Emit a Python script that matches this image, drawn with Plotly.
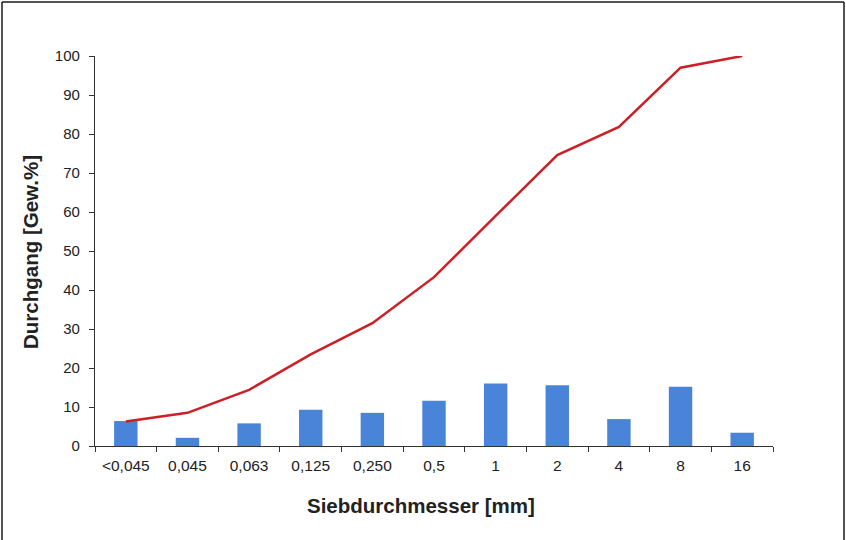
import plotly.graph_objects as go

categories = ["<0,045", "0,045", "0,063", "0,125", "0,250", "0,5", "1", "2", "4", "8", "16"]
bar_values = [6.4, 2.1, 5.8, 9.3, 8.5, 11.6, 16.0, 15.6, 6.9, 15.2, 3.4]
line_values = [6.3, 8.5, 14.4, 23.5, 31.5, 43.3, 59.0, 74.6, 81.8, 97.0, 100.0]
y_ticks = [0, 10, 20, 30, 40, 50, 60, 70, 80, 90, 100]

W, H = 846, 540
L, R, T, B = 95, 73, 56, 94

fig = go.Figure()
fig.add_trace(go.Bar(x=categories, y=bar_values, marker=dict(color="#4a84d8", line=dict(width=0)),
                     width=0.38, showlegend=False))
fig.add_trace(go.Scatter(x=categories, y=line_values, mode="lines",
                         line=dict(color="#cc1f26", width=2.5), showlegend=False))

pw = W - L - R
ph = H - T - B
def px(x):
    return (x - L) / pw
def py(y):
    return (H - B - y) / ph

border = dict(color="#1a1a1a", width=1.5)
fig.add_shape(type="line", xref="paper", yref="paper", x0=px(2), x1=px(844), y0=py(2), y1=py(2), line=border)
fig.add_shape(type="line", xref="paper", yref="paper", x0=px(2), x1=px(2), y0=py(2), y1=py(540), line=border)
fig.add_shape(type="line", xref="paper", yref="paper", x0=px(844), x1=px(844), y0=py(2), y1=py(540), line=border)

title_font = dict(family="Liberation Sans, Arial, sans-serif", size=20.5, color="#222")
fig.add_annotation(text="<b>Siebdurchmesser [mm]</b>", xref="paper", yref="paper",
                   x=px(421), y=py(506), xanchor="center", yanchor="middle",
                   showarrow=False, font=title_font)
fig.add_annotation(text="<b>Durchgang [Gew.%]</b>", xref="paper", yref="paper",
                   x=px(30), y=py(252), xanchor="center", yanchor="middle",
                   textangle=-90, showarrow=False, font=title_font)

fig.update_layout(
    width=W, height=H,
    margin=dict(l=L, r=R, t=T, b=B, pad=0),
    paper_bgcolor="white", plot_bgcolor="white",
    font=dict(family="Liberation Sans, Arial, sans-serif", size=15, color="#222"),
    xaxis=dict(
        type="category",
        showline=True, linecolor="#333", linewidth=1.2,
        ticks="outside", tickson="boundaries", ticklen=5, tickcolor="#333",
        showgrid=False, zeroline=False,
        tickfont=dict(size=15.5, color="#222"),
        ticklabelstandoff=5,
    ),
    yaxis=dict(
        range=[0, 100], tickvals=y_ticks,
        showline=True, linecolor="#333", linewidth=1.2,
        ticks="outside", ticklen=5, tickcolor="#333",
        showgrid=False, zeroline=False,
        tickfont=dict(size=15, color="#222"),
        ticklabelstandoff=6,
    ),
)

fig.write_html("out.html", config={"displayModeBar": False},
               post_script="document.body.style.margin='0';document.body.style.padding='0';")
